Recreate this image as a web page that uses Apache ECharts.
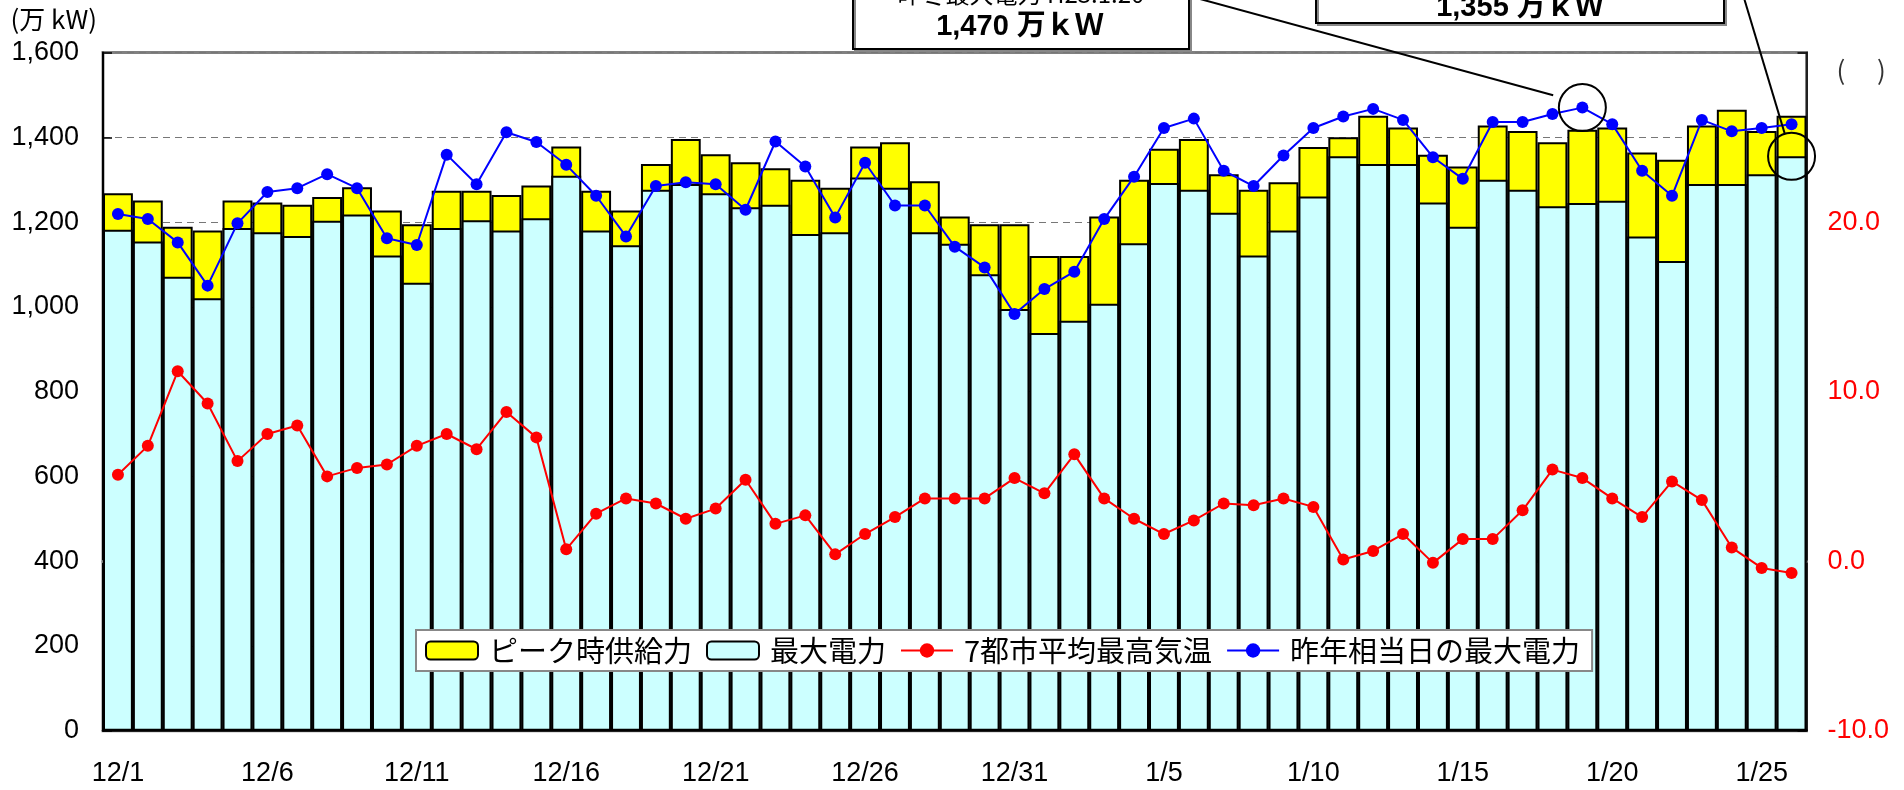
<!DOCTYPE html>
<html>
<head>
<meta charset="utf-8">
<script src="https://cdn.jsdelivr.net/npm/echarts@6/dist/echarts.min.js"></script>
<style>
html,body{margin:0;padding:0;background:#fff;}
#chart{width:1904px;height:790px;}
</style>
</head>
<body>
<div id="chart"></div>
<script>
const categories = [
  '12/1','12/2','12/3','12/4','12/5','12/6','12/7','12/8','12/9','12/10',
  '12/11','12/12','12/13','12/14','12/15','12/16','12/17','12/18','12/19','12/20',
  '12/21','12/22','12/23','12/24','12/25','12/26','12/27','12/28','12/29','12/30','12/31',
  '1/1','1/2','1/3','1/4','1/5','1/6','1/7','1/8','1/9','1/10',
  '1/11','1/12','1/13','1/14','1/15','1/16','1/17','1/18','1/19','1/20',
  '1/21','1/22','1/23','1/24','1/25','1/26'
];
// ピーク時供給力 (万kW)
const supply = [
  1268,1251,1189,1180,1251,1246,1241,1259,1282,1227,
  1195,1274,1274,1264,1286,1378,1274,1227,1337,1396,
  1360,1341,1327,1300,1281,1378,1388,1296,1213,1195,1195,
  1120,1120,1213,1300,1373,1396,1313,1276,1294,1377,
  1400,1451,1423,1359,1331,1428,1415,1388,1418,1423,
  1364,1347,1428,1465,1415,1451
];
// 最大電力 (万kW)
const demand = [
  1182,1154,1071,1020,1186,1176,1167,1203,1218,1121,
  1057,1186,1204,1180,1209,1309,1180,1145,1276,1290,
  1268,1235,1241,1172,1176,1305,1281,1176,1149,1077,995,
  938,967,1007,1150,1292,1276,1222,1121,1180,1260,
  1355,1337,1337,1246,1189,1300,1276,1237,1245,1250,
  1166,1108,1290,1290,1313,1355
];
// 7都市平均最高気温 (℃)
const temperature = [
  5.1,6.8,11.2,9.3,5.9,7.5,8.0,5.0,5.5,5.7,
  6.8,7.5,6.6,8.8,7.3,0.7,2.8,3.7,3.4,2.5,
  3.1,4.8,2.2,2.7,0.4,1.6,2.6,3.7,3.7,3.7,4.9,
  4.0,6.3,3.7,2.5,1.6,2.4,3.4,3.3,3.7,3.2,
  0.1,0.6,1.6,-0.1,1.3,1.3,3.0,5.4,4.9,3.7,
  2.6,4.7,3.6,0.8,-0.4,-0.7
];
// 昨年相当日の最大電力 (万kW)
const lastYear = [
  1219,1207,1152,1050,1197,1271,1280,1313,1280,1162,
  1146,1359,1289,1412,1389,1335,1262,1166,1285,1294,
  1289,1229,1390,1331,1211,1340,1239,1239,1142,1093,983,
  1042,1083,1207,1307,1422,1444,1321,1285,1357,1422,
  1449,1467,1441,1353,1302,1436,1436,1455,1470,1431,
  1321,1262,1441,1414,1422,1431
];
const seriesNames = ['ピーク時供給力','最大電力','7都市平均最高気温','昨年相当日の最大電力'];
const leftAxisName = '(万 kW)';
const rightAxisName = '(　 )';
const note1Title = '昨冬最大電力 H23.1.20';
const note1Value = '1,470 万ｋＷ';
const note1Index = 49;
const note2Value = '1,355 万ｋＷ';
const note2Index = 56;

const NUM_FONT = "'Liberation Sans', Arial, 'Noto Sans CJK JP', sans-serif";
const JP_FONT = "'Noto Sans CJK JP', 'Liberation Sans', sans-serif";

const chart = echarts.init(document.getElementById('chart'), null, {renderer: 'canvas'});

const option = {
  animation: false,
  backgroundColor: '#ffffff',
  grid: {left: 103, right: 97.5, top: 52.5, bottom: 59.3, containLabel: false,
         show: true, borderColor: '#808080', borderWidth: 3, backgroundColor: 'rgba(0,0,0,0)'},
  legend: {
    left: 416, top: 630,
    orient: 'horizontal',
    itemWidth: 52, itemHeight: 18, itemGap: 14,
    padding: [6, 12, 6, 9],
    backgroundColor: '#ffffff',
    borderColor: '#888888', borderWidth: 2,
    textStyle: {fontSize: 29, color: '#000', fontFamily: JP_FONT, padding: [0, 0, 0, 6]},
    data: seriesNames
  },
  xAxis: [{
    type: 'category',
    data: categories,
    boundaryGap: true,
    axisLine: {show: true, lineStyle: {color: '#000', width: 2.5}},
    axisTick: {show: false},
    axisLabel: {interval: 4, fontSize: 27, color: '#000', fontFamily: NUM_FONT, margin: 29},
    splitLine: {show: false}
  }, {
    type: 'category',
    data: categories,
    position: 'top',
    axisLine: {show: true, lineStyle: {color: '#808080', width: 3}},
    axisTick: {show: false},
    axisLabel: {show: false},
    splitLine: {show: false}
  }],
  yAxis: [{
    type: 'value',
    min: 0, max: 1600, interval: 200,
    name: leftAxisName,
    nameLocation: 'end',
    nameGap: 20,
    nameTextStyle: {fontSize: 26, color: '#000', fontFamily: JP_FONT, align: 'right', padding: [0, 6, 0, 0]},
    axisLine: {show: true, lineStyle: {color: '#000', width: 2}},
    axisTick: {show: true, inside: true, length: 9, lineStyle: {color: '#000', width: 1.5}},
    axisLabel: {
      fontSize: 27, color: '#000', fontFamily: NUM_FONT, margin: 24,
      formatter: v => v.toLocaleString('en-US')
    },
    splitLine: {show: true, lineStyle: {color: '#777777', width: 1.2, type: [7, 5]}}
  }, {
    type: 'value',
    position: 'right',
    min: -10, max: 30, interval: 10,
    name: rightAxisName,
    nameLocation: 'end',
    nameGap: -31,
    nameTextStyle: {fontSize: 26, color: '#333', fontFamily: JP_FONT, align: 'left', padding: [0, 0, 0, 30]},
    axisLine: {show: true, lineStyle: {color: '#000', width: 1.5}},
    axisTick: {show: true, inside: true, length: 9, lineStyle: {color: '#000', width: 1.5}},
    axisLabel: {
      fontSize: 27, color: '#ff0000', fontFamily: NUM_FONT, margin: 21,
      formatter: v => (v === 30 ? '' : v.toFixed(1))
    },
    splitLine: {show: false}
  }],
  series: [{
    name: seriesNames[0],
    type: 'bar',
    data: supply,
    barCategoryGap: '0%',
    barGap: '-100%',
    itemStyle: {color: '#ffff00', borderColor: '#000', borderWidth: 2},
    z: 2
  }, {
    name: seriesNames[1],
    type: 'bar',
    data: demand,
    barCategoryGap: '0%',
    barGap: '-100%',
    itemStyle: {color: '#ccffff', borderColor: '#000', borderWidth: 2},
    z: 3,
    markPoint: {
      symbol: 'circle',
      symbolSize: 47,
      label: {show: false},
      itemStyle: {color: 'rgba(0,0,0,0)', borderColor: '#000', borderWidth: 2},
      data: [{coord: [note2Index, demand[note2Index]]}],
      z: 10
    }
  }, {
    name: seriesNames[2],
    type: 'line',
    yAxisIndex: 1,
    data: temperature,
    symbol: 'circle',
    symbolSize: 12,
    color: '#ff0000',
    lineStyle: {color: '#ff0000', width: 2},
    itemStyle: {color: '#ff0000'},
    z: 5
  }, {
    name: seriesNames[3],
    type: 'line',
    yAxisIndex: 0,
    data: lastYear,
    symbol: 'circle',
    symbolSize: 12,
    color: '#0000ff',
    lineStyle: {color: '#0000ff', width: 2},
    itemStyle: {color: '#0000ff'},
    z: 6,
    markPoint: {
      symbol: 'circle',
      symbolSize: 47,
      label: {show: false},
      itemStyle: {color: 'rgba(0,0,0,0)', borderColor: '#000', borderWidth: 2},
      data: [{coord: [note1Index, lastYear[note1Index]]}],
      z: 10
    }
  }]
};
chart.setOption(option);

// annotation call-out boxes and leader lines
const c1 = chart.convertToPixel({xAxisIndex: 0, yAxisIndex: 0}, [note1Index, lastYear[note1Index]]);
const c2 = chart.convertToPixel({xAxisIndex: 0, yAxisIndex: 0}, [note2Index, demand[note2Index]]);
function edgePoint(from, center, r) {
  const dx = center[0] - from[0], dy = center[1] - from[1];
  const d = Math.sqrt(dx * dx + dy * dy);
  return [center[0] - dx / d * r, center[1] - dy / d * r];
}
const start1 = [1189, -4];
const start2 = [1744, -2];
const end1 = edgePoint(start1, [c1[0] - 6, c1[1] - 6], 24);
const end2 = edgePoint(start2, c2, 24);

chart.setOption({
  graphic: [
    {
      type: 'rect', z: 100,
      shape: {x: 853, y: -40, width: 336, height: 89},
      style: {fill: '#fff', stroke: '#000', lineWidth: 2, shadowColor: '#888', shadowOffsetX: 2, shadowOffsetY: 2}
    },
    {
      type: 'text', z: 101, x: 1021, y: -6,
      style: {text: note1Title, fontSize: 24, fontFamily: JP_FONT, fill: '#000', align: 'center', verticalAlign: 'middle'}
    },
    {
      type: 'text', z: 101, x: 1020, y: 27,
      style: {text: note1Value, fontSize: 29, fontWeight: 'bold', fontFamily: NUM_FONT, fill: '#000', align: 'center', verticalAlign: 'middle'}
    },
    {
      type: 'rect', z: 100,
      shape: {x: 1316, y: -60, width: 408, height: 83},
      style: {fill: '#fff', stroke: '#000', lineWidth: 2, shadowColor: '#888', shadowOffsetX: 2, shadowOffsetY: 2}
    },
    {
      type: 'text', z: 101, x: 1520, y: 8,
      style: {text: note2Value, fontSize: 29, fontWeight: 'bold', fontFamily: NUM_FONT, fill: '#000', align: 'center', verticalAlign: 'middle'}
    },
    {
      type: 'line', z: 100,
      shape: {x1: start1[0], y1: start1[1], x2: end1[0], y2: end1[1]},
      style: {stroke: '#000', lineWidth: 2}
    },
    {
      type: 'line', z: 100,
      shape: {x1: start2[0], y1: start2[1], x2: end2[0], y2: end2[1]},
      style: {stroke: '#000', lineWidth: 2}
    }
  ]
});
</script>
</body>
</html>
